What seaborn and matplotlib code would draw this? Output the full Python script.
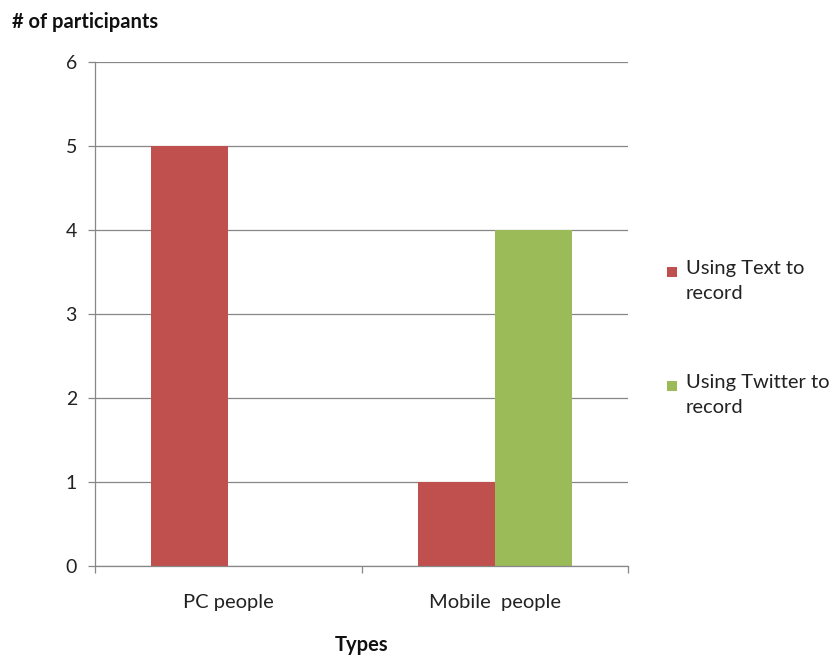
import matplotlib
matplotlib.use("Agg")
import matplotlib.pyplot as plt
from matplotlib.patches import Rectangle
import seaborn as sns
import pandas as pd

# Participant counts by type and recording method
types = ["PC people", "Mobile  people"]
methods = ["Using Text to\nrecord", "Using Twitter to\nrecord"]
text_counts = [5, 1]
twitter_counts = [0, 4]
colors = ["#C0504D", "#9BBB59"]

df = pd.DataFrame({
    "Types": types * 2,
    "Method": [methods[0]] * 2 + [methods[1]] * 2,
    "Count": text_counts + twitter_counts,
})

sns.set_theme(style="white")
plt.rcParams["font.family"] = ["Lato", "DejaVu Sans"]

fig = plt.figure(figsize=(8.32, 6.56), dpi=100)
ax = fig.add_axes([95 / 832, 1 - 566 / 656, (628 - 95) / 832, (566 - 62) / 656])

sns.barplot(data=df, x="Types", y="Count", hue="Method", order=types,
            hue_order=methods, palette=colors, width=0.578, saturation=1,
            gap=0, ax=ax, legend=False, linewidth=0)

grid_col = "#878787"
txt_col = "#222222"
fs = 14.5
ax.set_ylim(0, 6)
ax.set_xlim(-0.5, 1.5)
ax.set_yticks(range(0, 7))
ax.yaxis.grid(True, color=grid_col, linewidth=0.9)
ax.set_axisbelow(True)
for s in ["top", "right"]:
    ax.spines[s].set_visible(False)
for s in ["left", "bottom"]:
    ax.spines[s].set_color(grid_col)
    ax.spines[s].set_linewidth(0.9)

ax.tick_params(axis="y", which="major", left=True, length=5, width=0.9,
               color=grid_col, pad=8, labelsize=14, labelcolor=txt_col)
ax.tick_params(axis="x", which="major", bottom=False, length=0, pad=20,
               labelsize=fs, labelcolor=txt_col)
ax.set_xticks([-0.5, 0.5, 1.5], minor=True)
ax.tick_params(axis="x", which="minor", bottom=True, length=5, width=0.9,
               color=grid_col)

ax.set_xlabel("")
ax.set_ylabel("")
fig.text(12 / 832, 1 - 28 / 656, "# of participants", fontsize=fs,
         fontweight="bold", color="#111111", ha="left", va="baseline")
fig.text(362 / 832, 1 - 651 / 656, "Types", fontsize=fs,
         fontweight="bold", color="#111111", ha="center", va="baseline")

# Legend on the right
entries = [(267, methods[0], colors[0]), (381, methods[1], colors[1])]
for ytop, lab, col in entries:
    fig.patches.append(Rectangle((667 / 832, 1 - (ytop + 10) / 656), 10 / 832, 10 / 656,
                                 transform=fig.transFigure, facecolor=col,
                                 edgecolor="none"))
    fig.text(686 / 832, 1 - (ytop - 7) / 656, lab, fontsize=fs, color=txt_col,
             ha="left", va="top", linespacing=1.6)

fig.savefig("out.png", dpi=100, facecolor="white")
